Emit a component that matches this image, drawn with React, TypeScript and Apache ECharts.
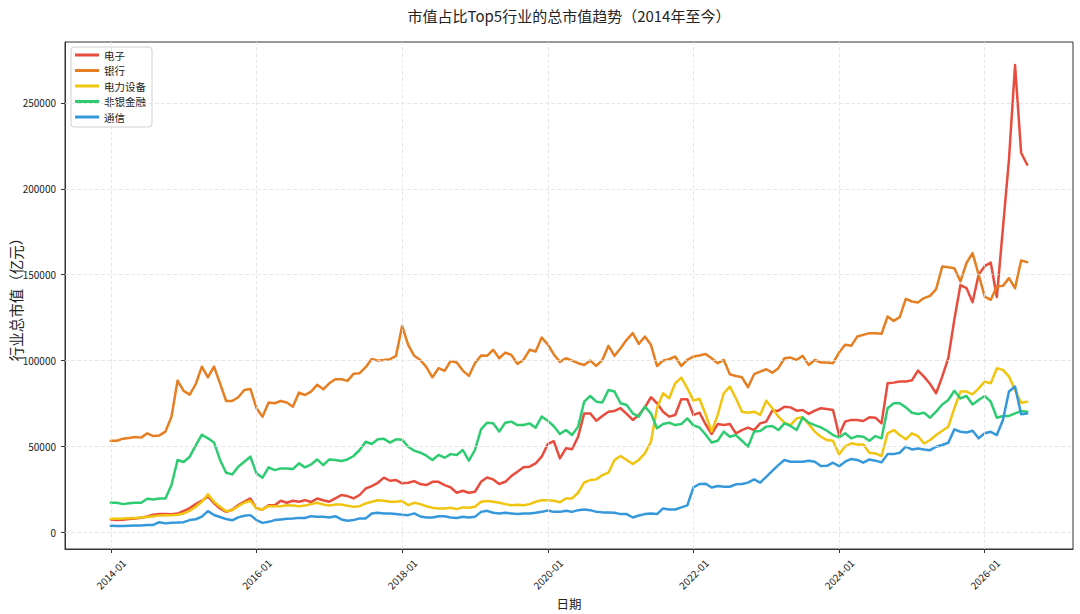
import React, { useEffect, useRef } from "react";
import * as echarts from "echarts";

// ---- categories (monthly, 2014-01 .. 2026-08) ----
const START_YEAR = 2014;
const MONTH_COUNT = 152;
const months: string[] = [];
for (let k = 0; k < MONTH_COUNT; k++) {
  const y = START_YEAR + Math.floor(k / 12);
  const m = (k % 12) + 1;
  months.push(`${y}-${m < 10 ? "0" + m : m}`);
}

// tick positions (month index) and labels
const xTickIndex = [0, 24, 48, 72, 96, 120, 144];
const xTickLabels = ["2014-01", "2016-01", "2018-01", "2020-01", "2022-01", "2024-01", "2026-01"];
const yTicks = [0, 50000, 100000, 150000, 200000, 250000];

const seriesNames = ["电子", "银行", "电力设备", "非银金融", "通信"];
const seriesColors = ["#e74c3c", "#e67e22", "#f1c40f", "#2ecc71", "#3498db"];

// 电子
const dianzi = [
  7600, 7300, 7400, 7800, 8200, 8600, 9300, 10300, 10800, 10700, 10600, 11000, 12500, 14200, 16500, 18500, 21000, 17000, 14000, 12000, 13200, 16000, 18000, 19800, 14000, 13400, 15900,
  15900, 18500, 17300, 18500, 17900, 18800, 17700, 19800, 18800, 17900, 19800, 21800, 21200, 19800, 21800, 25600, 27000, 28900, 31900, 30100, 30500, 28600, 28900, 29900, 28200,
  27600, 29500, 29500, 27600, 26200, 23100, 24300, 23100, 23700, 29500, 32000, 30900, 28200, 29500, 32800, 35400, 37900, 38300, 40200, 44100, 51400, 53100, 43100,
  49000, 48400, 55700, 69300, 69300, 65000, 67800, 70300, 70700, 72300, 69000, 65500, 68400, 72800, 78700, 75200, 70300, 67400, 68400, 77500, 77500, 68400, 69700, 63000,
  57300, 63100, 62500, 63100, 57700, 59600, 61000, 59600, 63500, 64500, 70900, 70900, 73200, 72800, 70900, 71300, 69000, 70900, 72300, 71900, 71300, 56700, 64500, 65500,
  65400, 64900, 67000, 66800, 63500, 86800, 87200, 87800, 87800, 88500, 94200, 90700, 86400, 81000, 90700, 101400, 124000, 144000, 142200, 134000, 150000, 155000, 157000, 137000, 177000, 217000, 272000, 221000, 214000,
];

// 银行
const yinhang = [
  53400, 53400, 54600, 55000, 55600, 55200, 57700, 56100, 56500, 58700, 67400, 88400, 82400, 80200, 86400, 96500, 90300, 96500, 86800, 76500, 76500, 78700, 82900, 83500, 72300, 67400, 75600,
  75200, 76500, 75600, 73200, 81400, 80000, 82000, 85900, 83300, 86800, 89200, 89200, 88200, 92300, 92700, 96200, 101000, 100000, 100400, 100800, 102800, 120200, 109200, 102800, 100400,
  96200, 90300, 95600, 94000, 99800, 98900, 94200, 91100, 98500, 103000, 102800, 106300, 101400, 104700, 103300, 98100, 100400, 106300, 105300, 113400, 109500, 103600, 99300,
  101400, 100000, 98500, 97500, 100000, 96900, 100400, 108600, 102800, 107200, 112100, 116000, 109700, 114000, 109200, 96900, 100000, 100800, 102400, 96900, 100400, 102400, 103000, 103900,
  101400, 98500, 100400, 92100, 91100, 90300, 84500, 92100, 93600, 95000, 93000, 95600, 101400, 101800, 100400, 102800, 97500, 100400, 98900, 98900, 98500, 104700, 109200, 108600,
  114000, 115000, 116000, 116000, 115600, 125700, 123100, 125300, 135900, 134400, 133800, 136400, 137700, 141600, 154800, 154400, 153800, 146100, 156800, 162600, 150000, 137300, 135400, 143200, 143500, 148000, 142200, 158300, 157300,
];

// 电力设备
const dianlishebei = [
  8000, 8000, 8100, 8300, 8500, 8700, 9000, 9500, 9900, 10000, 10000, 10300, 11100, 12600, 15000, 17900, 22300, 17900, 15000, 12400, 13000, 15300, 17300, 18500, 14000, 13400, 15300,
  15300, 15300, 15900, 15700, 15300, 15700, 16500, 17300, 16300, 15700, 16300, 16300, 15500, 15000, 15300, 16900, 17900, 18800, 18500, 17900, 17900, 18300, 15900, 17300, 16500,
  15300, 14400, 14000, 14000, 14400, 13600, 14600, 14400, 15000, 17900, 18300, 17900, 17300, 16500, 15900, 16100, 15900, 16500, 17900, 18800, 18800, 18500, 17600,
  19800, 19800, 23100, 29100, 30500, 30900, 33400, 34800, 42200, 44500, 42200, 39800, 42200, 46000, 52800, 72300, 81000, 78100, 86800, 90100, 83900, 76700, 77800, 68800,
  58700, 68400, 81000, 84900, 78100, 70300, 69700, 70300, 68400, 76700, 72300, 67400, 63900, 62500, 66400, 67000, 63100, 58700, 55700, 53800, 53400, 45500, 50000, 51900,
  51200, 51200, 46400, 46000, 44500, 57700, 59600, 56700, 54200, 57700, 56100, 51800, 53800, 56700, 59200, 61500, 72300, 82000, 82000, 80400, 83900, 87800, 86800, 95600, 94600, 90700, 82900, 75500, 76100,
];

// 非银金融
const feiyinjinrong = [
  17300, 17300, 16500, 17000, 17300, 17300, 19600, 19200, 19800, 19800, 27600, 42200, 41000, 44100, 50700, 56900, 54800, 52400, 42200, 34800, 33800, 38300, 41200, 44100, 34400, 31900, 37900,
  36300, 37300, 37300, 36900, 40200, 37900, 39600, 42500, 39200, 42500, 42200, 41600, 42500, 44500, 48000, 52800, 51500, 54200, 54500, 52300, 54200, 54000, 49900, 47600, 46400,
  44700, 42200, 45100, 43500, 45600, 45100, 48000, 41800, 48000, 60000, 63900, 63500, 58700, 63900, 64500, 62500, 62500, 63500, 61000, 67400, 65000, 61800, 57300,
  59600, 56700, 61600, 76100, 79400, 76100, 75600, 82900, 82000, 75200, 74200, 69300, 67400, 73200, 69300, 60600, 63100, 63900, 62500, 63100, 66400, 62300, 61100, 57000,
  52400, 53400, 58700, 55700, 56700, 53400, 49900, 58700, 59100, 61600, 62000, 59600, 63500, 62000, 59600, 67000, 63900, 62500, 61200, 59200, 56700, 55300, 57700, 54800,
  56100, 55700, 53400, 56100, 54800, 72300, 75200, 75200, 72800, 69700, 68900, 69700, 66800, 70300, 74500, 77100, 82500, 78000, 79400, 74500, 77100, 79400, 76100, 66800, 67800, 67800, 69300, 70700, 70300,
];

// 通信
const tongxin = [
  3900, 3800, 3800, 3900, 4000, 4100, 4300, 4400, 6000, 5300, 5700, 5800, 6000, 7200, 7700, 9200, 12400, 10200, 9000, 7800, 7100, 8800, 9700, 10100, 7200, 5600, 6200,
  7200, 7600, 8000, 8200, 8500, 8400, 9500, 9100, 9100, 8700, 9500, 7600, 6800, 7200, 8200, 8200, 11100, 11500, 11100, 11100, 10700, 10300, 10100, 11100, 9300,
  8700, 8700, 9500, 9500, 8700, 8400, 9100, 8700, 9100, 12000, 12600, 11500, 11100, 11500, 11100, 10700, 11100, 11100, 11500, 12000, 12800, 12000, 12000,
  12600, 12000, 13000, 13400, 13000, 12000, 11700, 11700, 11500, 10700, 10700, 8700, 9900, 10700, 11100, 10700, 14000, 13400, 13400, 14600, 15800, 26300, 28200, 28400,
  26200, 27000, 26600, 26600, 28000, 28200, 29000, 30900, 29000, 32400, 35900, 39200, 42200, 41200, 41200, 41200, 41800, 41200, 38700, 38800, 40600, 38600, 41200, 42800,
  42200, 40600, 42500, 41800, 40800, 45600, 45600, 46400, 49900, 48300, 48900, 48300, 47900, 49900, 50900, 52200, 60000, 58600, 58200, 59200, 54800, 57700, 58600, 56700, 65400, 82000, 84900, 68800, 69300,
];

const seriesValues = [dianzi, yinhang, dianlishebei, feiyinjinrong, tongxin];

const FONT = "'Noto Sans CJK SC', 'Noto Sans', sans-serif";
const GRID_STYLE = { color: "#e2e2e2", type: [4, 2], width: 0.8 };

export default function App() {
  const ref = useRef<HTMLDivElement>(null);

  useEffect(() => {
    if (!ref.current) return;
    const chart = echarts.init(ref.current, undefined, { renderer: "svg" });

    const allVals = seriesValues.flat();
    const yMinData = Math.min(...allVals);
    const yMaxData = Math.max(...allVals);
    const yPad = (yMaxData - yMinData) * 0.05;
    const xPad = (MONTH_COUNT - 1) * 0.05;

    const gridLineData = [
      ...yTicks.map((v) => ({ yAxis: v })),
      ...xTickIndex.map((v) => ({ xAxis: v })),
    ];

    const option: any = {
      animation: false,
      textStyle: { fontFamily: FONT },
      graphic: [
        {
          type: "text",
          x: 569,
          y: 15,
          style: {
            text: "市值占比Top5行业的总市值趋势（2014年至今）",
            fontFamily: FONT,
            fontSize: 15,
            fontWeight: "normal",
            fill: "#222",
            textAlign: "center",
            textVerticalAlign: "middle",
          },
        },
        {
          type: "text",
          x: 15,
          y: 296,
          rotation: Math.PI / 2,
          style: {
            text: "行业总市值（亿元）",
            fontFamily: FONT,
            fontSize: 14.5,
            fill: "#222",
            textAlign: "center",
            textVerticalAlign: "middle",
          },
        },
      ],
      grid: {
        left: 65,
        right: 7,
        top: 42,
        bottom: 65,
        containLabel: false,
        outerBoundsMode: "none",
        show: true,
        borderColor: "#333",
        borderWidth: 1,
        backgroundColor: "transparent",
      },
      legend: {
        orient: "vertical",
        left: 71,
        top: 47,
        icon: "rect",
        itemWidth: 24,
        itemHeight: 3,
        itemGap: 3.5,
        padding: [2, 6, 4, 4],
        backgroundColor: "rgba(255,255,255,0.85)",
        borderColor: "#d0d0d0",
        borderWidth: 1,
        borderRadius: 3,
        textStyle: { fontFamily: FONT, fontSize: 10.5, color: "#222", lineHeight: 12 },
        data: seriesNames,
      },
      xAxis: {
        type: "value",
        min: -xPad,
        max: MONTH_COUNT - 1 + xPad,
        name: "日期",
        nameLocation: "middle",
        nameGap: 44,
        nameTextStyle: { fontFamily: FONT, fontSize: 12.5, color: "#222" },
        axisLine: { show: true, onZero: false, lineStyle: { color: "#333", width: 1 } },
        axisTick: { show: true, length: 4, lineStyle: { color: "#333" }, customValues: xTickIndex },
        axisLabel: {
          customValues: xTickIndex,
          rotate: 45,
          align: "center",
          verticalAlign: "middle",
          margin: 25,
          fontFamily: FONT,
          fontSize: 10,
          color: "#222",
          formatter: (v: number) => {
            const k = xTickIndex.indexOf(Math.round(v));
            return k >= 0 ? xTickLabels[k] : "";
          },
        },
        splitLine: { show: false },
      },
      yAxis: {
        type: "value",
        min: yMinData - yPad,
        max: yMaxData + yPad,
        axisLine: { show: true, onZero: false, lineStyle: { color: "#333", width: 1 } },
        axisTick: { show: true, length: 4, lineStyle: { color: "#333" }, customValues: yTicks },
        axisLabel: {
          customValues: yTicks,
          margin: 9,
          fontFamily: FONT,
          fontSize: 10,
          color: "#222",
          formatter: (v: number) => String(Math.round(v)),
        },
        splitLine: { show: false },
      },
      series: [
        {
          name: "__grid",
          type: "line",
          data: [],
          z: 1,
          silent: true,
          markLine: {
            silent: true,
            symbol: "none",
            label: { show: false },
            lineStyle: GRID_STYLE,
            emphasis: { disabled: true },
            data: gridLineData,
          },
        },
        ...seriesNames.map((name, s) => ({
          name,
          type: "line",
          z: 3,
          data: seriesValues[s].map((v, i) => [i, v]),
          showSymbol: false,
          symbol: "none",
          color: seriesColors[s],
          lineStyle: { width: 2.5, color: seriesColors[s], join: "round", cap: "round" },
          emphasis: { disabled: true },
        })),
      ],
    };

    chart.setOption(option);
    return () => chart.dispose();
  }, []);

  return (
    <div
      ref={ref}
      style={{ position: "absolute", left: 0, top: 0, width: 1080, height: 614, background: "#fff" }}
    />
  );
}
